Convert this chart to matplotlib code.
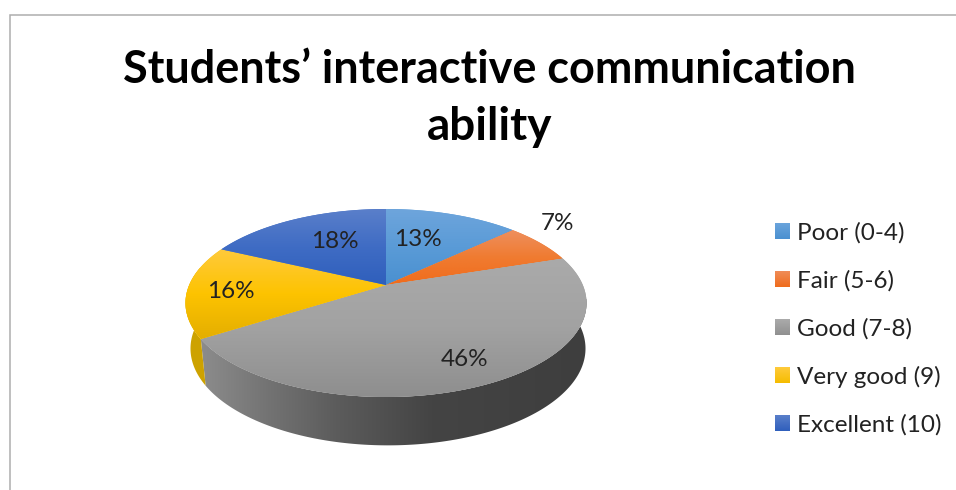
import numpy as np
import matplotlib
matplotlib.use("Agg")
import matplotlib.pyplot as plt
from matplotlib.colors import LinearSegmentedColormap
from matplotlib.patches import Polygon, Rectangle

# Survey results
categories = ["Poor (0-4)", "Fair (5-6)", "Good (7-8)", "Very good (9)", "Excellent (10)"]
shares = [13, 7, 46, 16, 18]
pct_labels = ["13%", "7%", "46%", "16%", "18%"]
title_lines = ["Students’ interactive communication", "ability"]

# Slice fills: top, middle and bottom of each face's vertical gradient
face_stops = [
    ["#6ea5dc", "#5a9bd7", "#4a90d0"],
    ["#ee8f5e", "#f07b30", "#f06c1c"],
    ["#aaaaaa", "#a2a2a2", "#8e8e8e"],
    ["#ffca3c", "#fdc300", "#e4ae00"],
    ["#5a7fca", "#3f6cc4", "#2f5fbc"],
]
side_colors = ["#3f6f9c", "#b0561c", None, "#cda200", "#2a4a86"]
wall_stops = [(0.0, "#8c8c8c"), (0.18, "#727272"), (0.35, "#5c5c5c"), (0.6, "#444444"), (1.0, "#3e3e3e")]
swatch_stops = [
    ["#6ba4dc", "#4a90d0"],
    ["#ef8c58", "#ef6c1c"],
    ["#ababab", "#909090"],
    ["#ffcb3c", "#f5bc00"],
    ["#5a7fca", "#2f5fbc"],
]

LABEL_POS = [(418, 239.5), (558, 223.5), (465, 359.5), (231, 291.5), (335, 241.5)]
LEGEND_Y = [231, 279, 327, 375, 423]

# Tilted-disc projection around the slice apex, in pixels
APEX_X, APEX_Y = 386.0, 285.0
RADIUS_X, RADIUS_Y, TILT = 196.8, 90.55, 0.1915
DEPTH, FLOOR_SCALE, FLOOR_SHIFT = 45.0, 0.985, 2.0


def project(theta, floor=False):
    """Clockwise angle from twelve o'clock to pixel position on the disc."""
    u, v = np.sin(theta), np.cos(theta)
    den = 1 + TILT * v
    x, y = RADIUS_X * u / den, RADIUS_Y * v / den
    if floor:
        return APEX_X + FLOOR_SHIFT + x * FLOOR_SCALE, APEX_Y - y * 1.03 + DEPTH
    return APEX_X + x, APEX_Y - y


def vertical_fill(ax, patch, stops, extent):
    cmap = LinearSegmentedColormap.from_list("fill", stops)
    grad = np.linspace(0, 1, 256)[:, None]
    im = ax.imshow(grad, cmap=cmap, extent=extent, aspect="auto", zorder=patch.get_zorder(),
                   interpolation="bilinear")
    im.set_clip_path(patch)


fig = plt.figure(figsize=(9.56, 4.9), dpi=100)
ax = fig.add_axes([0, 0, 1, 1])
ax.set_axis_off()
ax.set_xlim(0, 956)
ax.set_ylim(490, 0)

# Outer chart frame: left and top edges only
ax.plot([10.5, 10.5, 956], [490, 15, 15], color="#adadad", lw=1.1,
        solid_joinstyle="miter", zorder=1)

fractions = np.array(shares, dtype=float) / sum(shares)
edges = 2 * np.pi * np.concatenate([[0], np.cumsum(fractions)])

# Side wall: every slice whose rim faces the viewer
for i, color in enumerate(side_colors):
    lo = max(edges[i], np.pi / 2 - 0.2)
    hi = min(edges[i + 1], 3 * np.pi / 2 + 0.2)
    if hi <= lo:
        continue
    t = np.linspace(lo, hi, 200)
    tx, ty = project(t)
    bx, by = project(t[::-1], floor=True)
    wall = Polygon(np.column_stack([np.r_[tx, bx], np.r_[ty, by]]), closed=True,
                   facecolor=color or "none", edgecolor="none", zorder=2)
    ax.add_patch(wall)
    if color is None:
        cmap = LinearSegmentedColormap.from_list("wall", wall_stops)
        im = ax.imshow(np.linspace(0, 1, 256)[None, :], cmap=cmap, aspect="auto",
                       extent=(tx.min(), tx.max(), 450, 300), zorder=2, interpolation="bilinear")
        im.set_clip_path(wall)

# Top faces
for i, stops in enumerate(face_stops):
    t = np.linspace(edges[i], edges[i + 1], 160)
    x, y = project(t)
    pts = np.column_stack([np.r_[APEX_X, x], np.r_[APEX_Y, y]])
    face = Polygon(pts, closed=True, facecolor=stops[1], edgecolor="none", zorder=3)
    ax.add_patch(face)
    vertical_fill(ax, face, stops, (pts[:, 0].min(), pts[:, 0].max(), pts[:, 1].max(), pts[:, 1].min()))

ax.set_xlim(0, 956)
ax.set_ylim(490, 0)

font = "Lato"

# Percentage labels
for text, (lx, ly) in zip(pct_labels, LABEL_POS):
    ax.text(lx, ly, text, family=font, fontsize=17.5, color="#222222", ha="center",
            va="center", zorder=5)

# Title
ax.text(489.5, 70, title_lines[0], family=font, fontweight="bold", fontsize=32.4,
        color="black", ha="center", va="center", zorder=5)
ax.text(490, 127, title_lines[1], family=font, fontweight="bold", fontsize=33,
        color="black", ha="center", va="center", zorder=5)

# Legend
for name, ly, stops in zip(categories, LEGEND_Y, swatch_stops):
    box = Rectangle((775, ly - 8), 15, 16, facecolor=stops[0], edgecolor="none", zorder=4)
    ax.add_patch(box)
    vertical_fill(ax, box, stops, (775, 790, ly + 8, ly - 8))
    ax.text(797, ly + 1.5, name, family=font, fontsize=17.5, color="#222222", ha="left",
            va="center", zorder=5)

ax.set_xlim(0, 956)
ax.set_ylim(490, 0)
fig.savefig("out.png", dpi=100, facecolor="white")
